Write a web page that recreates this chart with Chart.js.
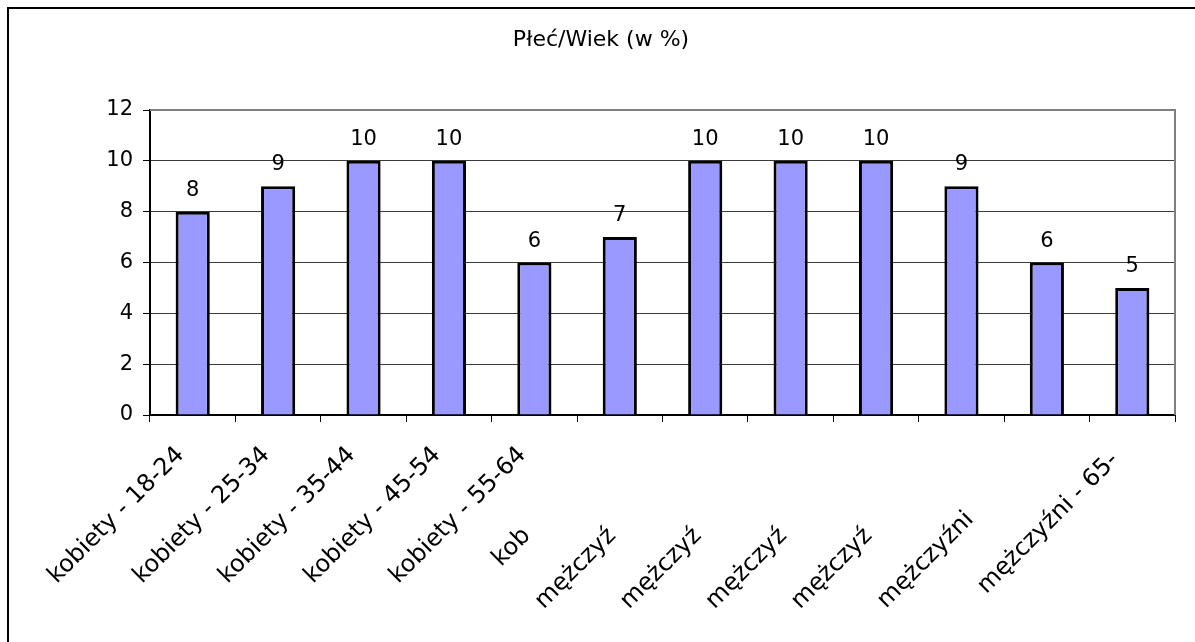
<!DOCTYPE html>
<html>
<head>
<meta charset="utf-8">
<script src="https://cdn.jsdelivr.net/npm/chart.js@4.4.1/dist/chart.umd.min.js"></script>
<style>
  html, body { margin: 0; padding: 0; background: #fff; overflow: hidden; }
  #frame { position: absolute; left: 7px; top: 7px; width: 1188px; height: 635px;
           border-left: 2px solid #000; border-top: 2px solid #000; box-sizing: border-box; }
  #wrap { position: absolute; left: 0; top: 0; width: 1195px; height: 642px; }
</style>
</head>
<body>
<div id="frame"></div>
<div id="wrap"><canvas id="c" width="1195" height="642"></canvas></div>
<script>
const title = 'Płeć/Wiek (w %)';
const categories = ['kobiety - 18-24', 'kobiety - 25-34', 'kobiety - 35-44', 'kobiety - 45-54',
  'kobiety - 55-64', 'kobiety - 65+', 'mężczyźni - 18-24', 'mężczyźni - 25-34',
  'mężczyźni - 35-44', 'mężczyźni - 45-54', 'mężczyźni - 55-64', 'mężczyźni - 65+'];
// tick label text as it is visible (clipped) in the original picture
const tickLabels = ['kobiety - 18-24', 'kobiety - 25-34', 'kobiety - 35-44', 'kobiety - 45-54',
  'kobiety - 55-64', 'kob', 'mężczyź', 'mężczyź', 'mężczyź', 'mężczyź', 'mężczyźni', 'mężczyźni - 65-'];
const values = [8, 9, 10, 10, 6, 7, 10, 10, 10, 9, 6, 5];
const yMin = 0, yMax = 12, yStep = 2;

const FONT = '"DejaVu Sans", Verdana, sans-serif';
const TICK_SIZE = 21;
const XLABEL_SIZE = 24;
const TITLE_SIZE = 22;

// pad the visible part so it sits where the full label would be
const mctx = document.createElement('canvas').getContext('2d');
mctx.font = XLABEL_SIZE + 'px ' + FONT;
function paddedLabel(i) {
  const target = mctx.measureText(categories[i]).width;
  let s = tickLabels[i];
  while (mctx.measureText(s + '\u00A0').width <= target + 0.5) s += '\u00A0';
  return s;
}

const valueLabels = {
  id: 'valueLabels',
  afterDatasetsDraw(chart) {
    const ctx = chart.ctx;
    const meta = chart.getDatasetMeta(0);
    ctx.save();
    ctx.font = TICK_SIZE + 'px ' + FONT;
    ctx.fillStyle = '#000';
    ctx.textAlign = 'center';
    ctx.textBaseline = 'alphabetic';
    meta.data.forEach((bar, i) => {
      ctx.fillText(String(values[i]), bar.x, bar.y - 16);
    });
    ctx.restore();
  }
};
const plotBorder = {
  id: 'plotBorder',
  beforeDatasetsDraw(chart) {
    const a = chart.chartArea, ctx = chart.ctx;
    ctx.save();
    ctx.strokeStyle = '#808080';
    ctx.lineWidth = 2;
    ctx.beginPath();
    ctx.moveTo(a.left, a.top);
    ctx.lineTo(a.right, a.top);
    ctx.lineTo(a.right, a.bottom);
    ctx.stroke();
    ctx.restore();
  }
};

new Chart(document.getElementById('c'), {
  type: 'bar',
  data: {
    labels: categories,
    datasets: [{
      data: values,
      backgroundColor: '#9999FF',
      borderColor: '#000000',
      borderWidth: 3,
      barPercentage: 0.4,
      categoryPercentage: 1.0
    }]
  },
  options: {
    responsive: false,
    animation: false,
    events: [],
    layout: { padding: { left: 27, right: 20, top: 0, bottom: 0 } },
    plugins: {
      legend: { display: false },
      tooltip: { enabled: false },
      title: {
        display: true,
        text: title,
        color: '#000',
        font: { family: FONT, size: TITLE_SIZE, weight: 'normal', lineHeight: 1.2 },
        padding: { top: 27, bottom: 56.6 }
      }
    },
    scales: {
      x: {
        grid: { display: true, drawOnChartArea: false, drawTicks: true, tickLength: 7, color: '#000', offset: true },
        border: { display: true, color: '#000', width: 2 },
        ticks: {
          autoSkip: false, maxRotation: 45, minRotation: 45, color: '#000', padding: 19, labelOffset: -12,
          font: { family: FONT, size: XLABEL_SIZE },
          callback: (v, i) => paddedLabel(i)
        },
        afterFit: (s) => { s.height = 642 - 415; }
      },
      y: {
        min: yMin, max: yMax,
        ticks: { stepSize: yStep, color: '#000', padding: 10, font: { family: FONT, size: TICK_SIZE } },
        grid: { color: (c) => c.tick && c.tick.value === yMax ? 'rgba(0,0,0,0)' : '#3a3a3a', lineWidth: 1,
                drawTicks: true, tickLength: 7, tickColor: '#000' },
        border: { display: true, color: '#000', width: 2 },
        afterFit: (s) => { s.width = 150 - 27; }
      }
    }
  },
  plugins: [plotBorder, valueLabels]
});
</script>
</body>
</html>
